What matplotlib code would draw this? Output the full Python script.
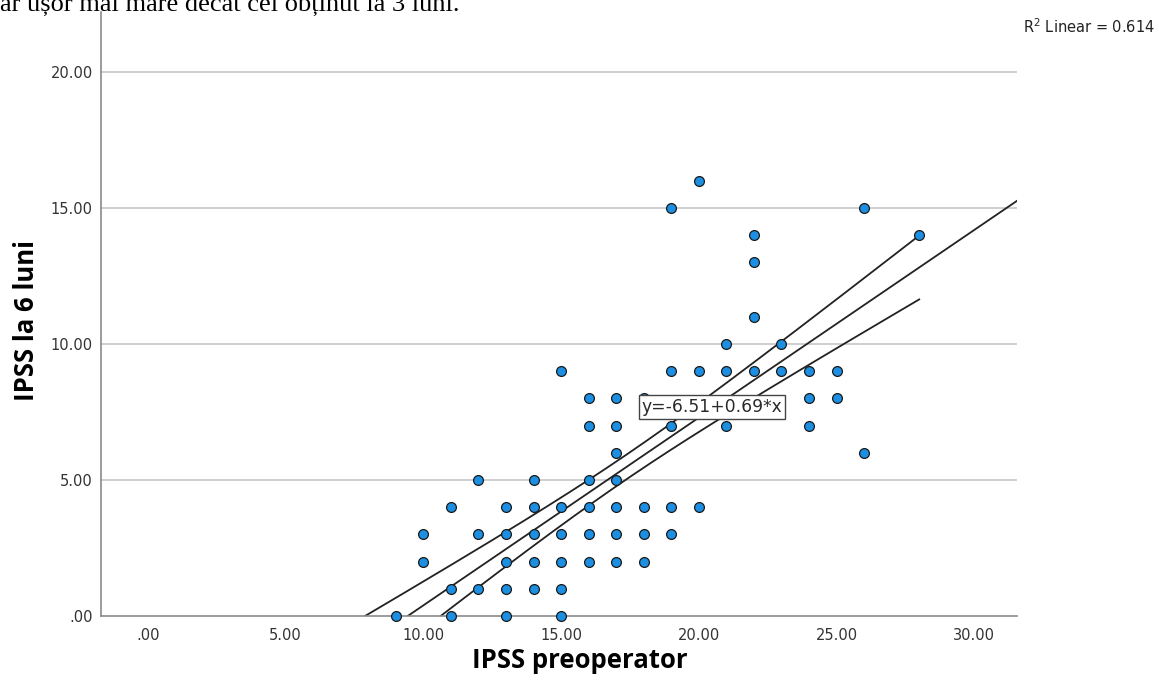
import numpy as np
import matplotlib.pyplot as plt

# IPSS preoperator (x) vs IPSS la 6 luni (y)
ipss_pre = [9,
            10, 10,
            11, 11, 11,
            12, 12, 12,
            13, 13, 13, 13, 13,
            14, 14, 14, 14, 14,
            15, 15, 15, 15, 15, 15,
            16, 16, 16, 16, 16, 16,
            17, 17, 17, 17, 17, 17, 17,
            18, 18, 18, 18,
            19, 19, 19, 19, 19,
            20, 20, 20,
            21, 21, 21,
            22, 22, 22, 22,
            23, 23,
            24, 24, 24,
            25, 25,
            26, 26,
            28]
ipss_6 = [0,
          2, 3,
          0, 1, 4,
          1, 3, 5,
          0, 1, 2, 3, 4,
          1, 2, 3, 4, 5,
          0, 1, 2, 3, 4, 9,
          2, 3, 4, 5, 7, 8,
          2, 3, 4, 5, 6, 7, 8,
          2, 3, 4, 8,
          3, 4, 7, 9, 15,
          4, 9, 16,
          7, 9, 10,
          9, 11, 13, 14,
          9, 10,
          7, 8, 9,
          8, 9,
          6, 15,
          14]

# many cases overlap on the integer grid; total cases estimated from the band width
n_cases = 149
intercept, slope = -6.51, 0.69
r2_text = 'R$^2$ Linear = 0.614'
x_ticks = [0, 5, 10, 15, 20, 25, 30]
y_ticks = [0, 5, 10, 15, 20]

x = np.array(ipss_pre, dtype=float)
y = np.array(ipss_6, dtype=float)

fig = plt.figure(figsize=(11.59, 6.82), dpi=100)
ax = fig.add_axes([101 / 1159, 66 / 682, (1017 - 101) / 1159, (616 - 12) / 682])

# gridlines
for yt in y_ticks[1:]:
    ax.axhline(yt, color='#cccccc', lw=1.3, zorder=0)

# fit line over the whole axis, 95% CI of the mean up to the largest x
xl = (-1.7, 31.55)
xf = np.linspace(xl[0], xl[1], 200)
ax.plot(xf, intercept + slope * xf, color='#222222', lw=1.3, zorder=2)

resid = y - (intercept + slope * x)
s = np.sqrt(np.sum(resid ** 2) / (len(x) - 2))
var_x = np.var(x)
xc = np.linspace(xl[0], x.max(), 300)
half = 1.976 * s * np.sqrt(1 / n_cases + (xc - x.mean()) ** 2 / (n_cases * var_x))
ax.plot(xc, intercept + slope * xc + half, color='#222222', lw=1.3, zorder=2)
ax.plot(xc, intercept + slope * xc - half, color='#222222', lw=1.3, zorder=2)

ax.scatter(x, y, s=50, facecolor='#1c8fe3', edgecolor='#1a1a1a', lw=0.9,
           zorder=3, clip_on=False)

ax.text(20.47, 7.68, 'y=-6.51+0.69*x', ha='center', va='center', fontsize=12.3,
        color='#2a2a2a', zorder=5,
        bbox=dict(boxstyle='square,pad=0.15', facecolor='white', edgecolor='#444444', lw=1))

ax.set_xlim(*xl)
ax.set_ylim(0, 22.2)
ax.set_xticks(x_ticks)
ax.set_xticklabels(['.00' if t == 0 else f'{t:.2f}' for t in x_ticks])
ax.set_yticks(y_ticks)
ax.set_yticklabels(['.00' if t == 0 else f'{t:.2f}' for t in y_ticks])
ax.tick_params(length=0, labelsize=10.5, colors='#333333')
ax.tick_params(axis='x', pad=9)
ax.tick_params(axis='y', pad=6)
for side in ['top', 'right']:
    ax.spines[side].set_visible(False)
for side in ['left', 'bottom']:
    ax.spines[side].set_color('#8a8a8a')
    ax.spines[side].set_linewidth(1.2)

ax.set_xlabel('IPSS preoperator', fontsize=18.5, fontweight='bold', family='Open Sans')
ax.set_ylabel('IPSS la 6 luni', fontsize=18.5, fontweight='bold', family='Open Sans')
ax.xaxis.set_label_coords(0.523, -0.073)
ax.xaxis.label.set_verticalalignment('center')
ax.yaxis.set_label_coords(-0.081, 0.49)
ax.yaxis.label.set_verticalalignment('center')

fig.text(1155 / 1159, 1 - 27 / 682, r2_text, ha='right', va='center', fontsize=10.5, color='#222222')
fig.text(0.0, 1 - 11 / 682, 'ar ușor mai mare decât cel obținut la 3 luni.', ha='left',
         va='baseline', fontsize=19, family='Liberation Serif')

fig.savefig('out.png', dpi=100)
